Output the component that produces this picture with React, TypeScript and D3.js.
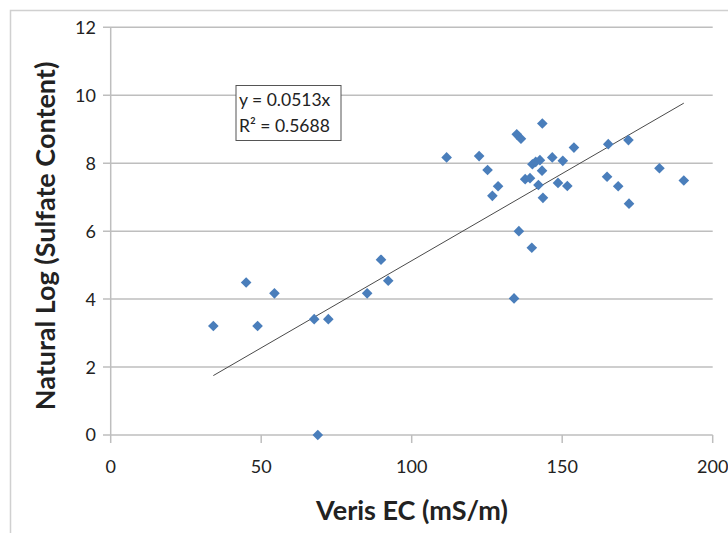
import React from "react";
import * as d3 from "d3";

const ecValues = [
  34.1, 45.0, 48.8, 54.4, 67.6, 72.3, 68.8, 85.2, 89.8, 92.2,
  111.6, 122.4, 125.2, 128.7, 126.8, 134.9, 136.3, 143.4, 140.1, 141.2,
  142.6, 143.3, 137.7, 139.3, 142.1, 143.6, 146.7, 150.2, 148.6, 151.7,
  153.9, 135.6, 139.9, 134.0, 165.3, 172.0, 164.9, 168.6, 172.2, 182.3,
  190.4,
];
const lnSulfate = [
  3.21, 4.49, 3.21, 4.17, 3.41, 3.41, 0.0, 4.17, 5.16, 4.54,
  8.17, 8.21, 7.8, 7.32, 7.04, 8.85, 8.72, 9.17, 7.97, 8.04,
  8.09, 7.78, 7.53, 7.56, 7.36, 6.98, 8.17, 8.07, 7.42, 7.33,
  8.46, 6.0, 5.51, 4.02, 8.56, 8.68, 7.6, 7.32, 6.81, 7.85,
  7.49,
];
const xTicks = [0, 50, 100, 150, 200];
const yTicks = [0, 2, 4, 6, 8, 10, 12];
const slope = 0.0513;
const equationLines = ["y = 0.0513x", "R² = 0.5688"];
const xTitle = "Veris EC (mS/m)";
const yTitle = "Natural Log (Sulfate Content)";

const W = 728;
const H = 533;
const FONT = "Lato, 'Open Sans', sans-serif";

export default function App() {
  const x = d3.scaleLinear().domain([0, 200]).range([110.7, 712.7]);
  const y = d3.scaleLinear().domain([0, 12]).range([435, 27.3]);
  const xMin = d3.min(ecValues) as number;
  const xMax = d3.max(ecValues) as number;
  const diamond = d3.symbol().type(d3.symbolDiamond2).size(72)();
  const grid = "#BEBEBE";

  return (
    <svg
      width={W}
      height={H}
      style={{ position: "absolute", left: 0, top: 0, background: "#fff" }}
    >
      <rect x={0} y={0} width={W} height={H} fill="#fff" />
      <rect x={10.5} y={10.5} width={760} height={560} fill="none" stroke="#D0D0D0" strokeWidth={1.5} />
      {yTicks.map((t) => (
        <g key={"y" + t}>
          <line x1={103} x2={x(200)} y1={y(t)} y2={y(t)} stroke={grid} strokeWidth={1.5} />
          <text
            x={96}
            y={y(t)}
            dy="0.36em"
            textAnchor="end"
            fontFamily={FONT}
            fontSize={18}
            fill="#222"
          >
            {t}
          </text>
        </g>
      ))}
      <line x1={x(0)} x2={x(0)} y1={y(12)} y2={y(0)} stroke={grid} strokeWidth={1.5} />
      {xTicks.map((t) => (
        <g key={"x" + t}>
          <line x1={x(t)} x2={x(t)} y1={y(0)} y2={y(0) + 8} stroke={grid} strokeWidth={1.5} />
          <text
            x={x(t)}
            y={467}
            dy="0.36em"
            textAnchor="middle"
            fontFamily={FONT}
            fontSize={18}
            fill="#222"
          >
            {t}
          </text>
        </g>
      ))}
      <line
        x1={x(xMin)}
        y1={y(slope * xMin)}
        x2={x(xMax)}
        y2={y(slope * xMax)}
        stroke="#4A4A4A"
        strokeWidth={1}
      />
      {ecValues.map((v, i) => (
        <path
          key={"p" + i}
          d={diamond || ""}
          transform={`translate(${x(v)},${y(lnSulfate[i])})`}
          fill="#4A7EBB"
        />
      ))}
      <rect x={236} y={85.5} width={105} height={55} fill="#fff" stroke="#555" strokeWidth={1} />
      {equationLines.map((s, i) => (
        <text
          key={"eq" + i}
          x={239}
          y={106 + i * 26}
          fontFamily={FONT}
          fontSize={17.5}
          fill="#222"
        >
          {s}
        </text>
      ))}
      <text
        x={412}
        y={510}
        dy="0.36em"
        textAnchor="middle"
        fontFamily={FONT}
        fontSize={27}
        fontWeight="bold"
        fill="#222"
      >
        {xTitle}
      </text>
      <text
        transform={`translate(45,236) rotate(-90)`}
        dy="0.36em"
        textAnchor="middle"
        fontFamily={FONT}
        fontSize={27}
        fontWeight="bold"
        fill="#222"
      >
        {yTitle}
      </text>
    </svg>
  );
}
